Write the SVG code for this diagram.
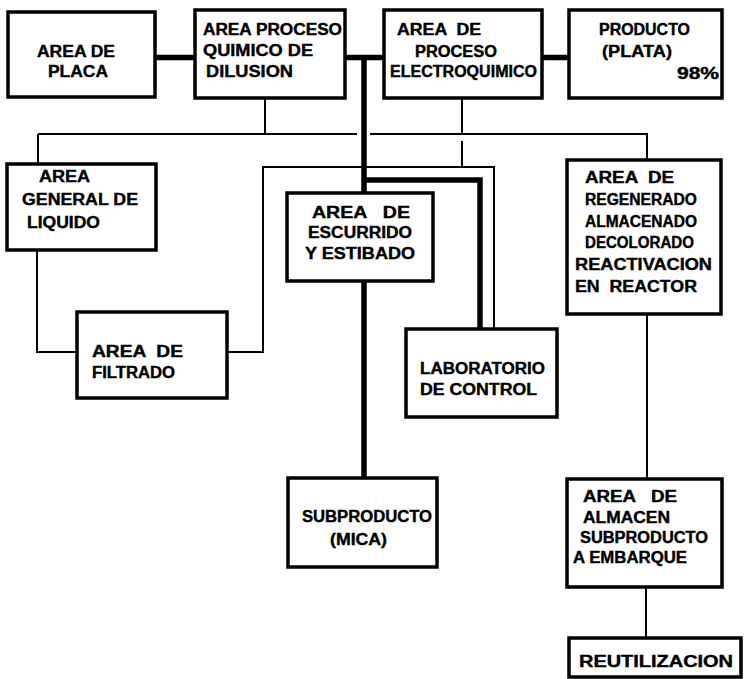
<svg xmlns="http://www.w3.org/2000/svg" width="744" height="679" viewBox="0 0 744 679">
<style>
.box{fill:#fff;stroke:#000;stroke-width:3.5}
.thin{fill:none;stroke:#000;stroke-width:2}
.thick{fill:none;stroke:#000;stroke-width:5.5}
text{font-family:"Liberation Sans",Arial,sans-serif;font-weight:bold;font-size:16px;fill:#000;stroke:#000;stroke-width:0.4;white-space:pre}
</style>
<rect width="744" height="679" fill="#fff"/>
<g id="connectors">
  <path class="thick" d="M155,57.5H195"/>
  <path class="thick" d="M345,57.5H384"/>
  <path class="thick" d="M542,57.5H569"/>
  <path class="thick" d="M364,57.5V193"/>
  <path class="thick" d="M364,180H480V329"/>
  <path class="thick" d="M364,281V478"/>
  <path class="thin" d="M265,98V134"/>
  <path class="thin" d="M38,134H357"/>
  <path class="thin" d="M370,134H647V160"/>
  <path class="thin" d="M38,134V164"/>
  <path class="thin" d="M462,98V134"/>
  <path class="thin" d="M462,141V167"/>
  <path class="thin" d="M227,352H263V167H494V329"/>
  <path class="thin" d="M37,250V352H77"/>
  <path class="thin" d="M647,314V479"/>
  <path class="thin" d="M646,587V638"/>
</g>
<g id="placa">
  <rect class="box" x="8" y="12" width="147" height="85"/>
  <text x="37" y="57" textLength="78" lengthAdjust="spacingAndGlyphs">AREA DE</text>
  <text x="48" y="77" textLength="60" lengthAdjust="spacingAndGlyphs">PLACA</text>
</g>
<g id="dilusion">
  <rect class="box" x="195" y="10" width="150" height="88"/>
  <text x="203" y="35" textLength="139" lengthAdjust="spacingAndGlyphs">AREA PROCESO</text>
  <text x="203" y="56" textLength="110" lengthAdjust="spacingAndGlyphs">QUIMICO DE</text>
  <text x="206" y="77" textLength="87" lengthAdjust="spacingAndGlyphs">DILUSION</text>
</g>
<g id="electroquimico">
  <rect class="box" x="384" y="10" width="158" height="88"/>
  <text x="397" y="35" textLength="84" lengthAdjust="spacingAndGlyphs">AREA  DE</text>
  <text x="415" y="57" textLength="82" lengthAdjust="spacingAndGlyphs">PROCESO</text>
  <text x="390" y="77" textLength="147" lengthAdjust="spacingAndGlyphs">ELECTROQUIMICO</text>
</g>
<g id="producto">
  <rect class="box" x="569" y="10" width="153" height="88"/>
  <text x="599" y="35" textLength="91" lengthAdjust="spacingAndGlyphs">PRODUCTO</text>
  <text x="602" y="57" textLength="70" lengthAdjust="spacingAndGlyphs">(PLATA)</text>
  <text x="677" y="79" textLength="42" lengthAdjust="spacingAndGlyphs">98%</text>
</g>
<g id="liquido">
  <rect class="box" x="7" y="164" width="149" height="86"/>
  <text x="39" y="182" textLength="51" lengthAdjust="spacingAndGlyphs">AREA</text>
  <text x="22" y="205" textLength="116" lengthAdjust="spacingAndGlyphs">GENERAL DE</text>
  <text x="27" y="228" textLength="73" lengthAdjust="spacingAndGlyphs">LIQUIDO</text>
</g>
<g id="filtrado">
  <rect class="box" x="77" y="312" width="150" height="86"/>
  <text x="92" y="357" textLength="91" lengthAdjust="spacingAndGlyphs">AREA  DE</text>
  <text x="92" y="378" textLength="83" lengthAdjust="spacingAndGlyphs">FILTRADO</text>
</g>
<g id="escurrido">
  <rect class="box" x="287" y="193" width="146" height="88"/>
  <text x="312" y="218" textLength="98" lengthAdjust="spacingAndGlyphs">AREA   DE</text>
  <text x="308" y="238" textLength="104" lengthAdjust="spacingAndGlyphs">ESCURRIDO</text>
  <text x="305" y="259" textLength="110" lengthAdjust="spacingAndGlyphs">Y ESTIBADO</text>
</g>
<g id="laboratorio">
  <rect class="box" x="406" y="329" width="151" height="88"/>
  <text x="420" y="374" textLength="125" lengthAdjust="spacingAndGlyphs">LABORATORIO</text>
  <text x="420" y="395" textLength="117" lengthAdjust="spacingAndGlyphs">DE CONTROL</text>
</g>
<g id="regenerado">
  <rect class="box" x="567" y="160" width="154" height="154"/>
  <text x="585" y="183" textLength="89" lengthAdjust="spacingAndGlyphs">AREA  DE</text>
  <text x="585" y="205" textLength="112" lengthAdjust="spacingAndGlyphs">REGENERADO</text>
  <text x="585" y="227" textLength="112" lengthAdjust="spacingAndGlyphs">ALMACENADO</text>
  <text x="585" y="248" textLength="109" lengthAdjust="spacingAndGlyphs">DECOLORADO</text>
  <text x="575" y="270" textLength="137" lengthAdjust="spacingAndGlyphs">REACTIVACION</text>
  <text x="575" y="292" textLength="122" lengthAdjust="spacingAndGlyphs">EN  REACTOR</text>
</g>
<g id="mica">
  <rect class="box" x="288" y="478" width="149" height="89"/>
  <text x="302" y="522" textLength="130" lengthAdjust="spacingAndGlyphs">SUBPRODUCTO</text>
  <text x="330" y="545" textLength="57" lengthAdjust="spacingAndGlyphs">(MICA)</text>
</g>
<g id="almacen">
  <rect class="box" x="567" y="479" width="155" height="108"/>
  <text x="583" y="502" textLength="94" lengthAdjust="spacingAndGlyphs">AREA   DE</text>
  <text x="583" y="523" textLength="87" lengthAdjust="spacingAndGlyphs">ALMACEN</text>
  <text x="580" y="543" textLength="128" lengthAdjust="spacingAndGlyphs">SUBPRODUCTO</text>
  <text x="573" y="563" textLength="114" lengthAdjust="spacingAndGlyphs">A EMBARQUE</text>
</g>
<g id="reutilizacion">
  <rect class="box" x="569" y="638" width="172" height="39"/>
  <text x="579" y="667" textLength="154" lengthAdjust="spacingAndGlyphs">REUTILIZACION</text>
</g>
</svg>
